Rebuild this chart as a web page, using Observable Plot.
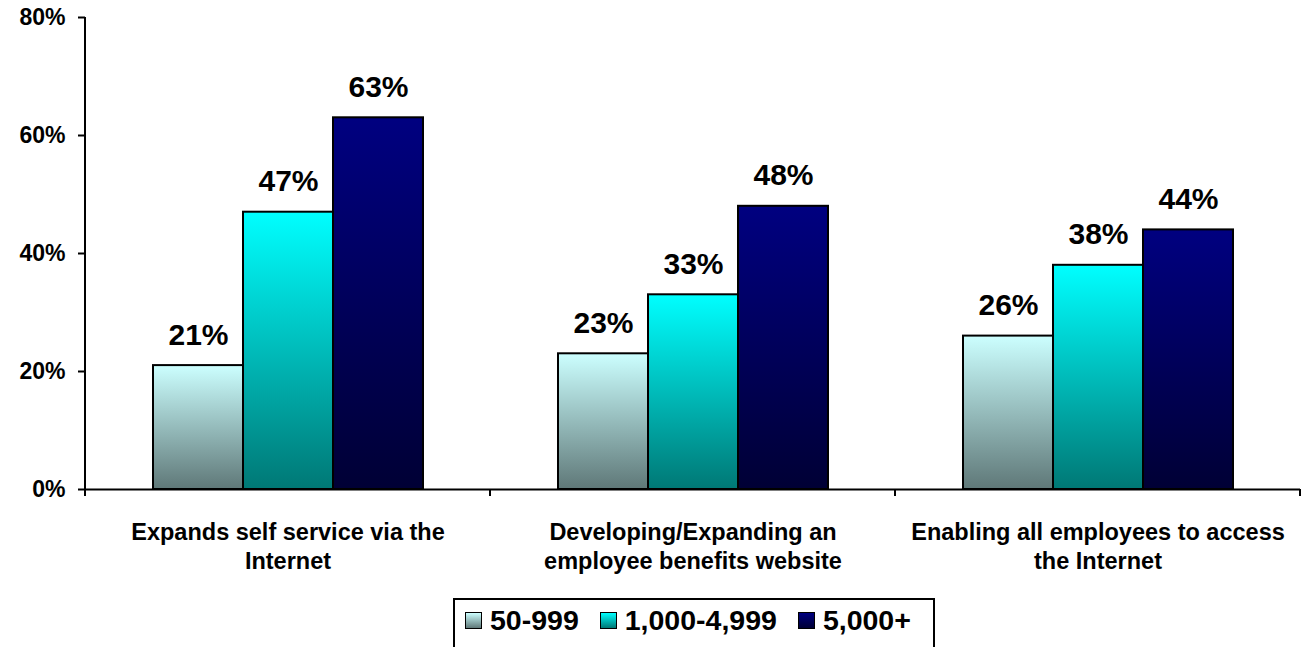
<!DOCTYPE html>
<html><head><meta charset="utf-8">
<script src="https://cdn.jsdelivr.net/npm/d3@7"></script>
<script src="https://cdn.jsdelivr.net/npm/@observablehq/plot@0.6"></script>
<style>
body{margin:0;background:#fff;font-family:"Liberation Sans",Arial,sans-serif;}
#legend{margin-left:453px;width:482px;height:60px;border:2px solid #000;box-sizing:border-box;display:flex;align-items:center;padding-left:10px;padding-bottom:16px;font-weight:bold;font-size:28.5px;color:#000;}
#legend .item{display:flex;align-items:center;margin-right:21px;}
#legend .sw{width:17px;height:17px;border:1.5px solid #000;box-sizing:border-box;margin-right:8px;}
</style></head><body><div id="chart"></div><div id="legend"></div><script>
const categories = ["Expands self service via the\nInternet","Developing/Expanding an\nemployee benefits website","Enabling all employees to access\nthe Internet"];
const seriesNames = ["50-999","1,000-4,999","5,000+"];
const values50to999 = [0.21,0.23,0.26];
const values1000to4999 = [0.47,0.33,0.38];
const values5000plus = [0.63,0.48,0.44];
const yTicks = [0,0.2,0.4,0.6,0.8];

const gradTop = ["#CCFFFF","#00FFFF","#000080"];
const gradBottom = ["#5F7878","#007875","#000035"];

const seriesValues = [values50to999, values1000to4999, values5000plus];
const data = categories.flatMap((c,i)=>seriesNames.map((s,j)=>({category:c, series:s, value:seriesValues[j][i], grad:`url(#grad${j})`})));
const pct = d3.format(".0%");

const plot = Plot.plot({
  width:1304, height:598,
  marginLeft:84, marginRight:4, marginTop:17, marginBottom:109,
  style:{fontFamily:'"Liberation Sans", Arial, sans-serif', fontWeight:"bold", color:"#000", background:"#fff", overflow:"visible"},
  fx:{domain:categories, padding:0, axis:null},
  x:{domain:seriesNames, paddingInner:0, paddingOuter:0.7376, axis:null},
  y:{domain:[0,0.8], axis:null},
  color:{type:"identity"},
  marks:[
    Plot.barY(data,{fx:"category", x:"series", y:"value", fill:"grad", stroke:"#000", strokeWidth:2}),
    Plot.ruleY([0],{stroke:"#000", strokeWidth:2}),
    Plot.axisY({ticks:yTicks, tickFormat:pct, tickSize:7, tickPadding:13, fontSize:23, strokeWidth:2, label:null}),
    Plot.text(data,{fx:"category", x:"series", y:"value", text:d=>pct(d.value), lineAnchor:"bottom", dy:-21, fontSize:30}),
    Plot.text(categories,{fx:d=>d, text:d=>d, frameAnchor:"bottom", lineAnchor:"top", dy:30, fontSize:23.5, lineHeight:1.22})
  ]
});
document.getElementById("chart").appendChild(plot);

const svg = d3.select(plot);
const defs = svg.insert("defs",":first-child");
gradTop.forEach((t,j)=>{
  const g = defs.append("linearGradient").attr("id",`grad${j}`).attr("x1",0).attr("y1",0).attr("x2",0).attr("y2",1);
  g.append("stop").attr("offset","0%").attr("stop-color",t);
  g.append("stop").attr("offset","100%").attr("stop-color",gradBottom[j]);
});
const fx = plot.scale("fx"), y = plot.scale("y");
const y0 = y.apply(0), yTop = y.apply(0.8);
const left = fx.apply(categories[0]);
const gAx = svg.append("g").attr("stroke","#000").attr("stroke-width",2);
gAx.append("line").attr("x1",left).attr("x2",left).attr("y1",y0+1).attr("y2",yTop);
const bounds = categories.map(c=>fx.apply(c)).concat([fx.apply(categories[categories.length-1])+fx.bandwidth]);
bounds.forEach(b=>gAx.append("line").attr("x1",b).attr("x2",b).attr("y1",y0).attr("y2",y0+7));

const legend = d3.select("#legend");
seriesNames.forEach((s,j)=>{
  const it = legend.append("div").attr("class","item");
  it.append("div").attr("class","sw").style("background",`linear-gradient(to bottom, ${gradTop[j]}, ${gradBottom[j]})`);
  it.append("span").text(s);
});
</script></body></html>
